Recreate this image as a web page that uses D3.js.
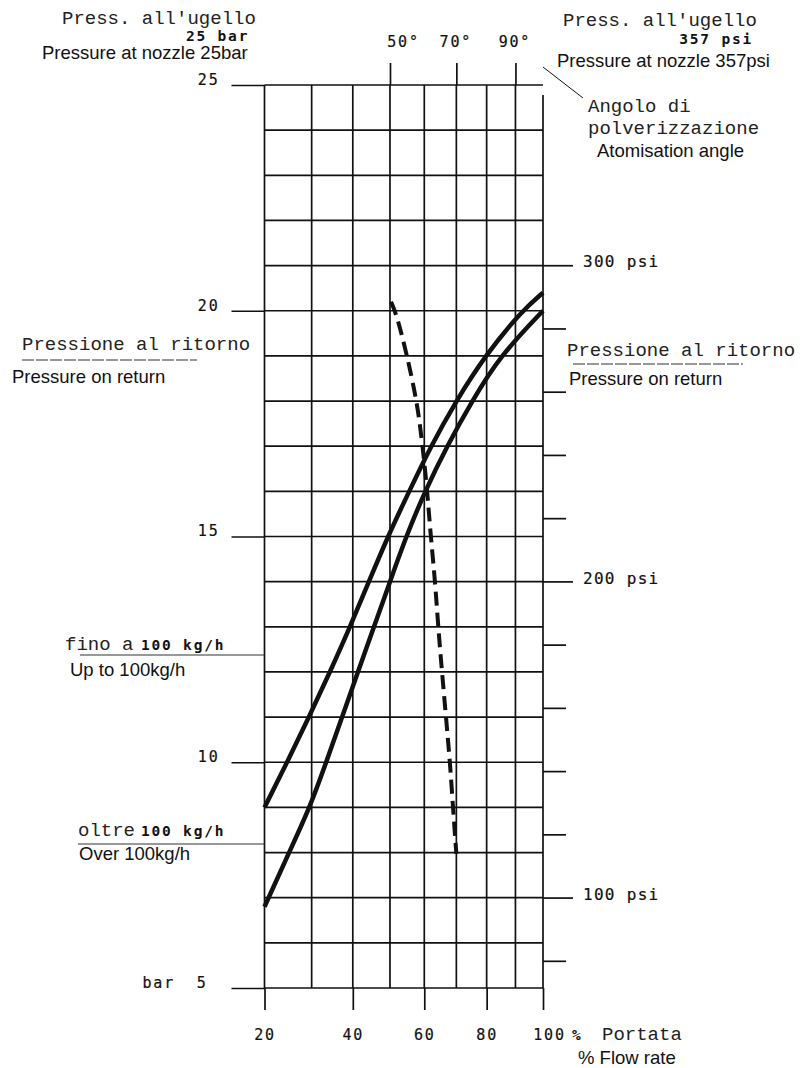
<!DOCTYPE html>
<html>
<head>
<meta charset="utf-8">
<script src="https://cdn.jsdelivr.net/npm/d3@7"></script>
<style>
  html, body { margin: 0; padding: 0; background: #fff; }
  svg { display: block; }
  .cour { font-family: "Liberation Mono", "Courier New", monospace; font-size: 19px; fill: #222; }
  .tw { font-family: "DejaVu Sans Mono", monospace; font-size: 15px; fill: #111; stroke: #111; stroke-width: 0.2px; letter-spacing: 1.8px; white-space: pre; }
  .twb { font-family: "DejaVu Sans Mono", monospace; font-size: 14.5px; font-weight: bold; fill: #111; letter-spacing: 1.8px; }
  .sans { font-family: "Liberation Sans", Arial, sans-serif; font-size: 18.5px; fill: #111; }
</style>
</head>
<body>
<svg id="chart" width="803" height="1068"></svg>
<script>
// Flow rate axis (% Portata) and grid divisions
const flowTicks = [20, 40, 60, 80, 100];
const flowGrid = [20, 30, 40, 50, 60, 70, 80, 90, 100];
// Atomisation angle marks (degrees) along the top
const angleTicks = [50, 70, 90];
// Return pressure, bar
const barTicks = [25, 20, 15, 10, 5];
const barMin = 5, barMax = 25;
// Nozzle pressure equivalence: 25 bar = 357 psi
const psiAtTop = 357;
const psiTicks = [80, 100, 120, 140, 160, 180, 200, 220, 240, 260, 280, 300];
const psiLabelled = [100, 200, 300];

// Return pressure vs flow rate, nozzles up to 100 kg/h  [flow %, bar]
const upTo100 = [
  [20, 9.0], [24.6, 10], [29.4, 11], [34.3, 12], [39.3, 13], [44.2, 14],
  [49.4, 15], [55.5, 16], [62.0, 17], [69.9, 18], [79.4, 19], [92.3, 20], [100, 20.4]
];
// Return pressure vs flow rate, nozzles over 100 kg/h  [flow %, bar]
const over100 = [
  [20, 6.8], [25.0, 8], [29.6, 9], [33.4, 10], [37.3, 11], [41.3, 12], [45.6, 13],
  [50.0, 14], [54.6, 15], [60.2, 16], [67.0, 17], [75.1, 18], [84.6, 19], [100, 20.0]
];
// Atomisation angle vs return pressure  [angle °, bar]
const sprayAngle = [
  [50.3, 20.2], [52.1, 19.86], [55.0, 18.97], [57.9, 17.95], [59.4, 17.06],
  [60.9, 16.02], [61.8, 15.13], [63.3, 14.02], [64.3, 12.96], [65.5, 11.96],
  [66.8, 10.92], [68.0, 9.97], [69.0, 8.92], [70.0, 7.97]
];

const svg = d3.select("#chart");
const ink = "#111";

const x = d3.scalePow().exponent(0.6).domain([20, 100]).range([264.5, 543]);
const y = d3.scaleLinear().domain([barMin, barMax]).range([988, 85]);
const yPsi = d3.scaleLinear()
  .domain([barMin * psiAtTop / barMax, psiAtTop])
  .range([y(barMin), y(barMax)]);

// ---- grid ----
const grid = svg.append("g").attr("stroke", ink).attr("stroke-width", 1.7);
grid.selectAll("line.h").data(d3.range(barMin, barMax + 1)).join("line")
  .attr("class", "h")
  .attr("x1", x(20)).attr("x2", x(100))
  .attr("y1", d => y(d)).attr("y2", d => y(d));
grid.selectAll("line.v").data(flowGrid).join("line")
  .attr("class", "v")
  .attr("x1", d => x(d)).attr("x2", d => x(d))
  .attr("y1", d => d === 100 ? y(barMax) + 10 : y(barMax)).attr("y2", y(barMin));

function styleAxis(g) {
  g.select(".domain").remove();
  g.selectAll(".tick line").attr("stroke", ink).attr("stroke-width", 1.7);
}
function styleText(sel) {
  sel.attr("class", "tw").attr("font-size", null).attr("font-family", null).attr("fill", null);
}

// ---- left axis: bar ----
svg.append("g")
  .attr("transform", `translate(${x(20)},0)`)
  .call(d3.axisLeft(y).tickValues(barTicks).tickSize(33).tickPadding(12)
    .tickFormat(d => d === 5 ? "bar  5" : d))
  .call(styleAxis)
  .call(g => g.selectAll("text").call(styleText).attr("dy", "-0.05em")
    .attr("dx", d => d === 5 ? -12 : 0));

// ---- right axis: psi ----
svg.append("g")
  .attr("transform", `translate(${x(100)},0)`)
  .call(d3.axisRight(yPsi).tickValues(psiTicks).tickSize(23).tickPadding(10)
    .tickFormat(d => psiLabelled.includes(d) ? d + " psi" : ""))
  .call(styleAxis)
  .call(g => g.selectAll(".tick line").attr("x2", d => psiLabelled.includes(d) ? 30 : 23))
  .call(g => g.selectAll("text").call(styleText).attr("x", 40).attr("dy", "0.1em")
    .style("font-size", "16px").style("letter-spacing", "1.3px"));

// ---- bottom axis: flow rate ----
svg.append("g")
  .attr("transform", `translate(0,${y(barMin)})`)
  .call(d3.axisBottom(x).tickValues(flowTicks).tickSize(22).tickPadding(19)
    .tickFormat(d => d))
  .call(styleAxis)
  .call(g => g.selectAll("text").call(styleText)
    .attr("dx", d => d === 100 ? 6 : 0));

// ---- top axis: atomisation angle ----
svg.append("g")
  .attr("transform", `translate(0,${y(barMax)})`)
  .call(d3.axisTop(x).tickValues(angleTicks).tickSize(22).tickPadding(16)
    .tickFormat(d => d + "°"))
  .call(styleAxis)
  .call(g => g.selectAll("text").call(styleText)
    .attr("dx", d => d === 50 ? 13 : -1));

// ---- curves ----
const line = d3.line().x(d => x(d[0])).y(d => y(d[1])).curve(d3.curveBasis);
svg.append("path").datum(upTo100).attr("d", line)
  .attr("fill", "none").attr("stroke", ink).attr("stroke-width", 4.5);
svg.append("path").datum(over100).attr("d", line)
  .attr("fill", "none").attr("stroke", ink).attr("stroke-width", 4.5);
svg.append("path").datum(sprayAngle).attr("d", line)
  .attr("fill", "none").attr("stroke", ink).attr("stroke-width", 4)
  .attr("stroke-dasharray", "14,7");

// ---- labels ----
function txt(cls, xp, yp, s, anchor) {
  return svg.append("text").attr("class", cls).attr("x", xp).attr("y", yp)
    .attr("text-anchor", anchor || "start").text(s);
}
function rule(x1, x2, yp, dash) {
  return svg.append("line").attr("x1", x1).attr("x2", x2).attr("y1", yp).attr("y2", yp)
    .attr("stroke", "#333").attr("stroke-width", 1.1).attr("stroke-dasharray", dash || null);
}
// top left
txt("cour", 62, 24, "Press. all'ugello");
txt("twb", 186, 41, "25 bar");
txt("sans", 42, 59, "Pressure at nozzle 25bar");
// top right
txt("cour", 563, 26, "Press. all'ugello");
txt("twb", 753, 44, "357 psi", "end");
txt("sans", 557, 67, "Pressure at nozzle 357psi");
svg.append("line").attr("x1", 543).attr("y1", 67).attr("x2", 583).attr("y2", 98)
  .attr("stroke", ink).attr("stroke-width", 1);
txt("cour", 588, 112, "Angolo di");
txt("cour", 588, 134, "polverizzazione");
txt("sans", 597, 157, "Atomisation angle");

// return pressure captions
txt("cour", 22, 350, "Pressione al ritorno");
rule(22, 197, 360, "12,2");
txt("sans", 12, 383, "Pressure on return");
txt("cour", 567, 356, "Pressione al ritorno");
rule(573, 743, 364, "12,2");
txt("sans", 569, 385, "Pressure on return");

// curve captions
txt("cour", 65, 650, "fino a");
txt("twb", 141, 650, "100 kg/h");
rule(80, x(20), 655);
txt("sans", 70, 676, "Up to 100kg/h");

txt("cour", 78, 836, "oltre");
txt("twb", 141, 836, "100 kg/h");
rule(78, x(20), 844);
txt("sans", 79, 860, "Over 100kg/h");

// x axis title
txt("twb", 572, 1040, "%");
txt("cour", 602, 1040, "Portata");
txt("sans", 578, 1064, "% Flow rate");
</script>
</body>
</html>
